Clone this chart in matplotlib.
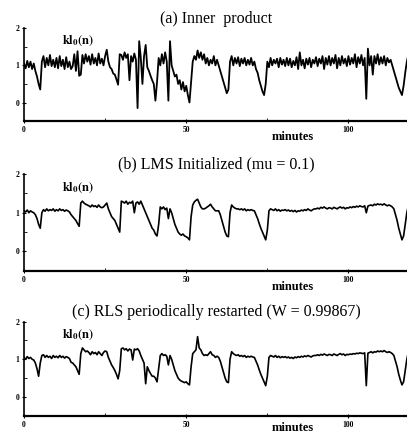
import numpy as np
import matplotlib
matplotlib.use('Agg')
import matplotlib.pyplot as plt

# kl_0(n) traces, one sample every 0.5 minute (0 .. 118.5)
inner_product = [
    1.05, 0.92, 1.12, 0.95, 1.10, 0.90, 1.05, 0.85, 0.70, 0.50, 0.35, 1.10, 1.25, 0.95, 1.20, 1.00, 1.28, 0.98, 1.15, 0.95,
    1.20, 0.92, 1.25, 0.98, 1.15, 0.90, 1.22, 0.95, 1.10, 0.90, 0.98, 1.30, 0.85, 1.38, 0.72, 0.75, 1.28, 1.05, 1.30, 1.10,
    1.25, 1.02, 1.30, 1.05, 1.20, 1.00, 1.32, 1.05, 1.18, 1.00, 1.25, 1.42, 1.10, 0.95, 0.90, 0.78, 0.75, 0.62, 0.48, 1.30,
    1.28, 1.15, 1.35, 1.20, 1.30, 0.60, 1.25, 1.10, 1.32, 1.15, -0.15, 1.65, 1.20, 0.50, 1.25, 1.55, 0.95, 0.85, 0.72, 0.60,
    0.50, 0.05, 0.55, 1.20, 1.00, 1.30, 1.05, 1.35, 1.10, 0.05, 1.65, 1.00, 0.85, 0.70, 0.75, 0.50, 0.60, 0.35, 0.55, 0.30,
    0.45, 0.20, 0.00, 0.55, 1.10, 1.25, 1.15, 1.40, 1.20, 1.35, 1.15, 1.30, 1.05, 1.20, 1.00, 1.15, 1.05, 1.25, 1.00, 1.15,
    1.00, 0.85, 0.70, 0.55, 0.40, 0.25, 0.35, 1.10, 1.25, 1.00, 1.20, 1.05, 1.22, 0.98, 1.18, 1.05, 1.20, 1.00, 1.15, 1.02,
    1.20, 1.00, 1.10, 0.90, 0.80, 0.60, 0.45, 0.30, 0.20, 0.50, 1.10, 0.95, 1.20, 1.00, 1.15, 1.05, 1.18, 0.95, 1.20, 1.02,
    1.15, 0.98, 1.20, 1.00, 1.18, 0.95, 1.12, 1.00, 1.22, 0.90, 1.35, 1.00, 1.15, 0.92, 1.18, 1.02, 1.20, 0.95, 1.15, 1.05,
    1.22, 0.98, 1.18, 1.05, 1.25, 0.90, 1.20, 1.02, 1.25, 1.00, 1.20, 1.05, 1.28, 0.92, 1.20, 1.00, 1.25, 1.05, 1.18, 0.98,
    1.25, 1.02, 1.20, 1.05, 1.30, 0.95, 1.22, 1.05, 1.28, 1.00, 1.20, 0.10, 1.45, 1.00, 1.25, 0.75, 1.25, 1.05, 1.30, 1.02,
    1.22, 1.05, 1.25, 1.00, 1.20, 1.08, 1.15, 1.00, 0.85, 0.70, 0.55, 0.40, 0.30, 0.20, 0.45, 0.80, 1.10, 1.30,
]

lms = [
    1.05, 1.02, 1.07, 1.00, 1.05, 1.02, 1.00, 0.95, 0.85, 0.70, 0.60, 1.00, 1.08, 1.04, 1.10, 1.05, 1.08, 1.06, 1.10, 1.04,
    1.08, 1.05, 1.10, 1.06, 1.08, 1.04, 1.07, 1.05, 1.02, 0.95, 0.90, 0.85, 0.80, 0.72, 0.65, 1.25, 1.30, 1.25, 1.22, 1.20,
    1.18, 1.15, 1.20, 1.16, 1.18, 1.14, 1.20, 1.15, 1.13, 1.15, 1.20, 1.25, 1.10, 1.00, 0.90, 0.85, 0.80, 0.70, 0.60, 0.50,
    1.30, 1.28, 1.25, 1.30, 1.22, 1.27, 1.25, 1.30, 1.00, 1.25, 1.28, 1.22, 1.30, 1.20, 1.10, 1.00, 0.90, 0.80, 0.70, 0.60,
    0.55, 0.45, 0.40, 0.70, 1.15, 1.10, 1.15, 1.08, 1.12, 0.85, 1.10, 1.00, 0.85, 0.70, 0.60, 0.50, 0.45, 0.42, 0.45, 0.40,
    0.38, 0.35, 0.30, 0.90, 1.20, 1.28, 1.32, 1.35, 1.25, 1.15, 1.10, 1.10, 1.12, 1.15, 1.18, 1.22, 1.15, 1.10, 1.05, 1.05,
    1.05, 0.95, 0.80, 0.65, 0.50, 0.40, 0.38, 1.00, 1.20, 1.15, 1.12, 1.10, 1.10, 1.08, 1.10, 1.07, 1.10, 1.05, 1.08, 1.06,
    1.08, 1.06, 1.05, 0.95, 0.85, 0.72, 0.60, 0.50, 0.40, 0.30, 0.55, 1.05, 1.10, 1.08, 1.06, 1.10, 1.05, 1.08, 1.04, 1.07,
    1.06, 1.08, 1.05, 1.07, 1.04, 1.06, 1.03, 1.06, 1.02, 1.05, 1.04, 1.07, 1.05, 1.08, 1.06, 1.10, 1.07, 1.05, 1.08, 1.10,
    1.10, 1.12, 1.10, 1.14, 1.12, 1.15, 1.12, 1.10, 1.13, 1.12, 1.10, 1.14, 1.12, 1.10, 1.13, 1.15, 1.12, 1.14, 1.10, 1.13,
    1.12, 1.15, 1.13, 1.16, 1.14, 1.17, 1.15, 1.18, 1.16, 1.15, 1.18, 1.00, 1.17, 1.19, 1.20, 1.18, 1.22, 1.20, 1.23, 1.21,
    1.22, 1.20, 1.23, 1.20, 1.18, 1.20, 1.18, 1.15, 1.10, 0.95, 0.80, 0.60, 0.45, 0.30, 0.40, 0.70, 1.00, 1.20,
]

rls = [
    1.05, 1.00, 1.07, 1.02, 1.05, 1.00, 0.98, 0.90, 0.75, 0.55, 0.90, 1.10, 1.12, 1.05, 1.10, 1.05, 1.08, 1.02, 1.10, 1.05,
    1.08, 1.04, 1.10, 1.05, 1.08, 1.03, 1.07, 1.05, 1.02, 0.92, 0.90, 0.85, 0.80, 0.70, 0.60, 1.15, 1.30, 1.25, 1.20, 1.22,
    1.18, 1.12, 1.20, 1.15, 1.18, 1.12, 1.20, 1.15, 1.10, 1.18, 1.22, 1.20, 1.05, 0.95, 0.85, 0.78, 0.70, 0.60, 0.48, 0.70,
    1.28, 1.30, 1.25, 1.28, 1.22, 1.27, 1.25, 0.98, 1.27, 1.25, 1.28, 1.22, 1.10, 1.00, 0.90, 0.35, 0.80, 0.70, 0.62, 0.55,
    0.55, 0.50, 0.40, 0.75, 1.10, 1.15, 1.10, 1.12, 1.08, 0.85, 1.10, 1.00, 0.85, 0.70, 0.60, 0.50, 0.45, 0.42, 0.40, 0.38,
    0.40, 0.35, 0.32, 0.80, 1.15, 1.20, 1.25, 1.60, 1.30, 1.25, 1.15, 1.10, 1.12, 1.10, 1.15, 1.20, 1.12, 1.10, 1.05, 1.08,
    1.05, 0.95, 0.80, 0.65, 0.50, 0.40, 0.38, 1.00, 1.20, 1.15, 1.12, 1.10, 1.12, 1.08, 1.10, 1.07, 1.10, 1.05, 1.08, 1.06,
    1.08, 1.06, 1.05, 0.95, 0.85, 0.72, 0.60, 0.50, 0.40, 0.30, 0.55, 1.05, 1.10, 1.08, 1.06, 1.10, 1.05, 1.08, 1.04, 1.07,
    1.05, 1.07, 1.04, 1.06, 1.03, 1.05, 1.02, 1.06, 1.04, 1.07, 1.05, 1.08, 1.06, 1.09, 1.07, 1.10, 1.08, 1.06, 1.09, 1.10,
    1.10, 1.12, 1.10, 1.13, 1.11, 1.14, 1.12, 1.10, 1.13, 1.12, 1.10, 1.14, 1.12, 1.10, 1.13, 1.15, 1.12, 1.14, 1.10, 1.13,
    1.12, 1.14, 1.13, 1.15, 1.14, 1.16, 1.15, 1.17, 1.16, 1.15, 1.17, 0.30, 1.16, 1.18, 1.20, 1.17, 1.20, 1.19, 1.22, 1.20,
    1.22, 1.20, 1.23, 1.20, 1.18, 1.20, 1.18, 1.15, 1.10, 0.95, 0.80, 0.60, 0.45, 0.32, 0.40, 0.70, 1.00, 1.20,
]

titles = ['(a) Inner  product',
          '(b) LMS Initialized (mu = 0.1)',
          '(c) RLS periodically restarted (W = 0.99867)']
series = [inner_product, lms, rls]
minutes = np.arange(len(inner_product)) * 0.5

plt.rcParams['font.family'] = ['Liberation Serif', 'DejaVu Serif']
plt.rcParams['mathtext.fontset'] = 'stix'

fig = plt.figure(figsize=(4.07, 4.34), dpi=100)

# axes boxes in figure fractions (left, bottom, width, height)
boxes = [(0.059, 0.721, 0.943, 0.214),
         (0.059, 0.376, 0.943, 0.223),
         (0.059, 0.042, 0.943, 0.217)]
widths = [1.3, 1.2, 1.2]
label_y = [-0.17, -0.17, -0.125]

for box, title, y, lw, ly in zip(boxes, titles, series, widths, label_y):
    ax = fig.add_axes(box)
    ax.plot(minutes, y, color='black', linewidth=lw)
    ax.set_xlim(0, 118.3)
    ax.set_ylim(-0.5, 2)
    ax.set_title(title, fontsize=11.5, pad=4)

    ax.spines['top'].set_visible(False)
    ax.spines['right'].set_visible(False)
    ax.spines['left'].set_linewidth(1.2)
    ax.spines['bottom'].set_linewidth(1.6)

    ax.set_xticks([0, 50, 100])
    ax.set_xticks([25, 75], minor=True)
    ax.set_yticks([0, 1, 2])
    ax.set_yticks([-0.5, 0.5, 1.5], minor=True)
    ax.tick_params(axis='both', which='major', labelsize=5.5, length=3,
                   width=0.8, direction='inout', pad=2)
    ax.tick_params(axis='both', which='minor', length=2, width=0.6,
                   direction='in')
    for lab in ax.get_xticklabels() + ax.get_yticklabels():
        lab.set_fontweight('bold')

    ax.text(0.099, 0.86, r'$\mathbf{kl}_{\mathbf{0}}\mathbf{(n)}$',
            transform=ax.transAxes, fontsize=9, va='center', ha='left')
    ax.text(0.70, ly, 'minutes', transform=ax.transAxes, fontsize=9,
            fontweight='bold', ha='center', va='center')

plt.savefig('out.png', dpi=100)
